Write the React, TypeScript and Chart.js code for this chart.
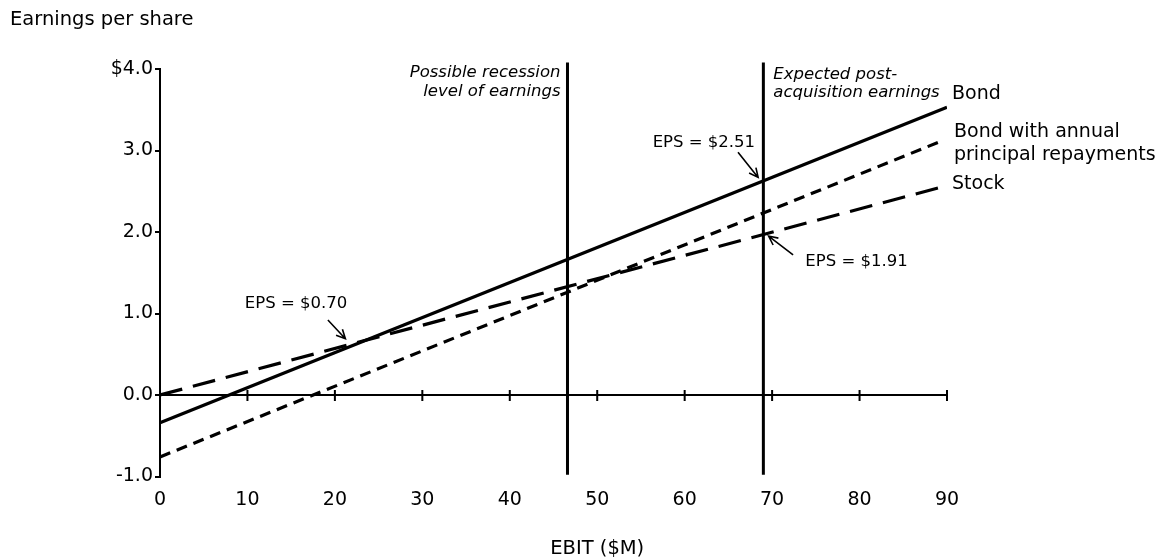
import React, { useEffect, useRef } from 'react';
import { Chart, registerables } from 'chart.js';

Chart.register(...registerables);

// ---- data ----
const bondEbit = [0, 90];
const bondEps = [-0.34, 3.53];
const bondRepayEbit = [0, 89];
const bondRepayEps = [-0.76, 3.1];
const stockEbit = [0, 89];
const stockEps = [0, 2.54];
const recessionEbit = 46.6;
const expectedEbit = 69;
const verticalSpan = [-0.98, 4.08];
const xTicks = [0, 10, 20, 30, 40, 50, 60, 70, 80, 90];
const yTicks = [-1, 0, 1, 2, 3, 4];
const yTickLabels = ['-1.0', '0.0', '1.0', '2.0', '3.0', '$4.0'];
const seriesNames = ['Bond', 'Bond with annual principal repayments', 'Stock'];
const epsNotes = ['EPS = $2.51', 'EPS = $1.91', 'EPS = $0.70'];

const FONT = '"DejaVu Sans", Verdana, sans-serif';
const INK = '#000';

function pts(xs: number[], ys: number[]) {
  return xs.map((x, i) => ({ x, y: ys[i] }));
}

function arrow(ctx: CanvasRenderingContext2D, x1: number, y1: number, x2: number, y2: number) {
  const a = Math.atan2(y2 - y1, x2 - x1);
  const h = 10;
  const w = 0.45;
  ctx.beginPath();
  ctx.moveTo(x1, y1);
  ctx.lineTo(x2, y2);
  ctx.moveTo(x2 - h * Math.cos(a - w), y2 - h * Math.sin(a - w));
  ctx.lineTo(x2, y2);
  ctx.lineTo(x2 - h * Math.cos(a + w), y2 - h * Math.sin(a + w));
  ctx.stroke();
}

const decorPlugin = {
  id: 'decor',
  beforeDatasetsDraw(chart: any) {
    const { ctx, scales } = chart;
    const xs = scales.x;
    const ys = scales.y;
    const y0 = ys.getPixelForValue(0);
    ctx.save();
    ctx.strokeStyle = INK;
    ctx.lineWidth = 2;
    ctx.beginPath();
    ctx.moveTo(xs.getPixelForValue(xTicks[0]), y0);
    ctx.lineTo(xs.getPixelForValue(xTicks[xTicks.length - 1]), y0);
    xTicks.forEach((v) => {
      if (v === 0) return;
      const px = xs.getPixelForValue(v);
      ctx.moveTo(px, y0 - 5);
      ctx.lineTo(px, y0 + 6);
    });
    ctx.stroke();
    ctx.restore();
  },
  afterDatasetsDraw(chart: any) {
    const { ctx, scales } = chart;
    const X = (v: number) => scales.x.getPixelForValue(v);
    const Y = (v: number) => scales.y.getPixelForValue(v);
    ctx.save();
    ctx.fillStyle = INK;
    ctx.strokeStyle = INK;
    ctx.textBaseline = 'middle';

    // page title & axis title
    ctx.font = `19.5px ${FONT}`;
    ctx.textAlign = 'left';
    ctx.fillText('Earnings per share', 10, 20);
    ctx.textAlign = 'center';
    ctx.fillText('EBIT ($M)', X(50), chart.height - 10);

    // vertical line captions
    ctx.font = `italic 16.5px ${FONT}`;
    ctx.textAlign = 'right';
    ctx.fillText('Possible recession', X(recessionEbit) - 7, Y(4) + 4);
    ctx.fillText('level of earnings', X(recessionEbit) - 7, Y(4) + 23);
    ctx.textAlign = 'left';
    ctx.fillText('Expected post-', X(expectedEbit) + 10, Y(4) + 6);
    ctx.fillText('acquisition earnings', X(expectedEbit) + 10, Y(4) + 24);

    // series labels
    ctx.font = `19px ${FONT}`;
    ctx.textAlign = 'left';
    const lx = X(90) + 5;
    ctx.fillText(seriesNames[0], lx, Y(3.69));
    ctx.fillText('Bond with annual', lx + 2, Y(3.23));
    ctx.fillText('principal repayments', lx + 2, Y(2.94));
    ctx.fillText(seriesNames[2], lx, Y(2.59));

    // EPS notes
    ctx.font = `16.5px ${FONT}`;
    ctx.textAlign = 'right';
    ctx.fillText(epsNotes[0], X(68.05), Y(3.1));
    ctx.textAlign = 'left';
    ctx.fillText(epsNotes[1], X(73.8), Y(1.63));
    ctx.fillText(epsNotes[2], X(9.7), Y(1.12));

    ctx.lineWidth = 1.6;
    arrow(ctx, X(66.1), Y(2.98), X(68.4), Y(2.67));
    arrow(ctx, X(72.4), Y(1.72), X(69.6), Y(1.95));
    arrow(ctx, X(19.2), Y(0.92), X(21.2), Y(0.69));
    ctx.restore();
  },
};

export default function App() {
  const ref = useRef<HTMLCanvasElement>(null);

  useEffect(() => {
    if (!ref.current) return;
    const chart = new Chart(ref.current, {
      type: 'line',
      data: {
        datasets: [
          {
            label: seriesNames[0],
            data: pts(bondEbit, bondEps),
            borderColor: INK,
            borderWidth: 3.2,
            pointRadius: 0,
          },
          {
            label: seriesNames[1],
            data: pts(bondRepayEbit, bondRepayEps),
            borderColor: INK,
            borderWidth: 3.2,
            borderDash: [11, 7],
            pointRadius: 0,
          },
          {
            label: seriesNames[2],
            data: pts(stockEbit, stockEps),
            borderColor: INK,
            borderWidth: 3.2,
            borderDash: [23, 11],
            pointRadius: 0,
          },
          {
            label: 'recession',
            data: pts([recessionEbit, recessionEbit], verticalSpan),
            borderColor: INK,
            borderWidth: 3,
            pointRadius: 0,
            clip: false as any,
          },
          {
            label: 'expected',
            data: pts([expectedEbit, expectedEbit], verticalSpan),
            borderColor: INK,
            borderWidth: 3,
            pointRadius: 0,
            clip: false as any,
          },
        ],
      },
      options: {
        animation: false,
        responsive: false,
        events: [],
        layout: { padding: { left: 0, right: 214, top: 69, bottom: 0 } },
        plugins: { legend: { display: false }, tooltip: { enabled: false } },
        scales: {
          x: {
            type: 'linear',
            min: 0,
            max: 90,
            afterBuildTicks: (s: any) => {
              s.ticks = xTicks.map((v) => ({ value: v }));
            },
            afterFit: (s: any) => {
              s.height = 82.5;
            },
            ticks: {
              font: { family: FONT, size: 19 },
              color: INK,
              padding: 12,
              maxRotation: 0,
              callback: (v: any) => String(v),
            },
            grid: { display: false, drawTicks: false },
            border: { display: false },
          },
          y: {
            type: 'linear',
            min: -1,
            max: 4,
            afterBuildTicks: (s: any) => {
              s.ticks = yTicks.map((v) => ({ value: v }));
            },
            afterFit: (s: any) => {
              s.width = 160;
            },
            ticks: {
              font: { family: FONT, size: 19 },
              color: INK,
              padding: 2,
              callback: (v: any) => {
                const i = yTicks.indexOf(Number(v));
                return i >= 0 ? yTickLabels[i] : '';
              },
            },
            grid: { drawOnChartArea: false, drawTicks: true, tickLength: 5, color: INK, lineWidth: 2 },
            border: { display: true, color: INK, width: 2 },
          },
        },
      },
      plugins: [decorPlugin],
    });
    return () => chart.destroy();
  }, []);

  return (
    <div style={{ position: 'absolute', left: 0, top: 0, width: 1161, height: 559, background: '#fff' }}>
      <canvas ref={ref} width={1161} height={559} style={{ display: 'block' }} />
    </div>
  );
}
